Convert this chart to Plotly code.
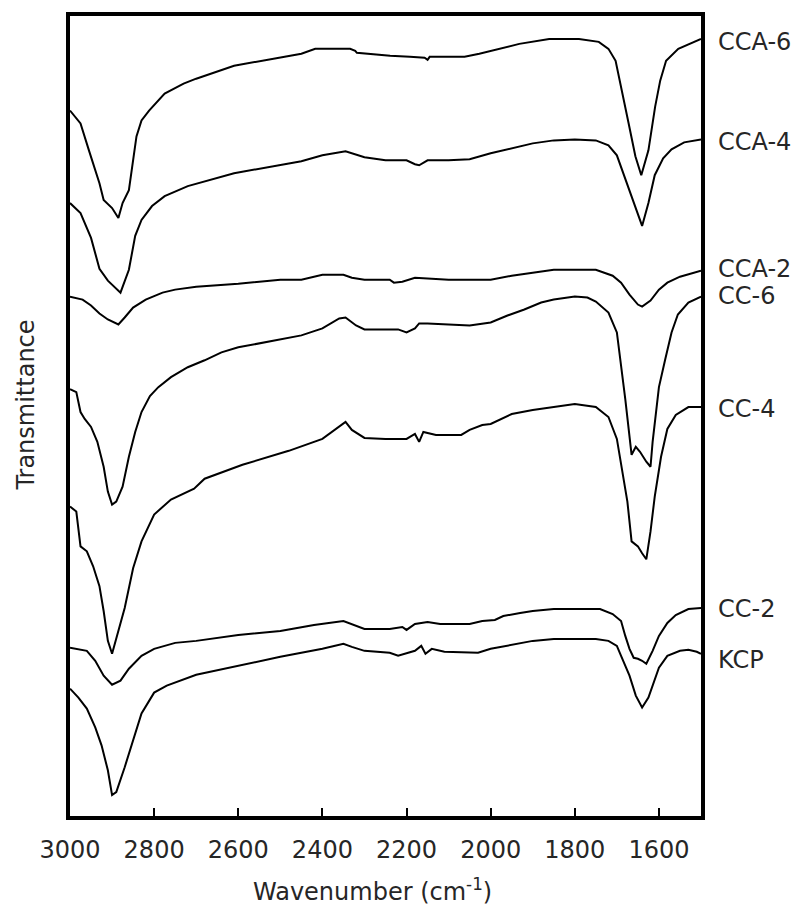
import plotly.graph_objects as go

# Wavenumber (cm^-1) and transmittance (arbitrary units, stacked/offset)
cca6_wn = [3000, 2975, 2955, 2930, 2920, 2900, 2885, 2875, 2860, 2850, 2842, 2830, 2812, 2775, 2730, 2700,
           2610, 2450, 2417, 2334, 2322, 2318, 2239, 2192, 2157, 2150, 2145, 2120, 2062, 2027, 1980, 1932,
           1861, 1790, 1743, 1720, 1703, 1689, 1672, 1656, 1642, 1625, 1609, 1597, 1583, 1554, 1519, 1500]
cca6_t = [711, 698, 671, 638, 621, 613, 603, 618, 631, 663, 685, 701, 711, 728, 738, 743,
          756, 768, 773, 773, 771, 769, 766, 765, 764, 762, 765, 765, 765, 768, 773, 778,
          783, 783, 780, 773, 761, 731, 698, 665, 646, 671, 715, 741, 761, 773, 780, 783]

cca4_wn = [3000, 2975, 2950, 2930, 2910, 2880, 2860, 2845, 2830, 2805, 2775, 2720, 2610, 2450, 2400, 2345,
           2300, 2250, 2200, 2180, 2170, 2150, 2100, 2050, 2000, 1950, 1900, 1850, 1800, 1750, 1720, 1700,
           1680, 1660, 1640, 1625, 1610, 1590, 1570, 1540, 1500]
cca4_t = [618, 608, 583, 552, 540, 528, 551, 585, 601, 615, 625, 635, 648, 660, 666, 670,
          664, 661, 661, 657, 656, 661, 661, 662, 668, 673, 678, 681, 682, 681, 676, 666,
          643, 618, 595, 618, 646, 663, 672, 679, 682]

cca2_wn = [3000, 2970, 2950, 2930, 2910, 2885, 2870, 2850, 2820, 2780, 2750, 2700, 2600, 2500, 2450, 2400,
           2350, 2330, 2300, 2240, 2230, 2210, 2180, 2150, 2100, 2000, 1950, 1900, 1850, 1800, 1750, 1710,
           1690, 1670, 1650, 1640, 1620, 1600, 1580, 1550, 1500]
cca2_t = [524, 521, 515, 507, 501, 496, 503, 513, 521, 528, 531, 534, 537, 541, 541, 546,
          546, 543, 541, 541, 538, 539, 543, 542, 541, 541, 545, 548, 551, 551, 551, 545,
          538, 526, 516, 514, 520, 531, 538, 544, 550]

cc6_wn = [3000, 2985, 2975, 2965, 2950, 2935, 2920, 2910, 2900, 2890, 2875, 2860, 2845, 2830, 2810, 2790,
          2760, 2720, 2680, 2640, 2600, 2500, 2450, 2400, 2360, 2345, 2320, 2300, 2250, 2220, 2200, 2180,
          2170, 2150, 2100, 2050, 2000, 1960, 1920, 1880, 1850, 1800, 1770, 1750, 1720, 1700, 1680, 1665,
          1655, 1645, 1630, 1620, 1615, 1600, 1585, 1570, 1555, 1530, 1500]
cc6_t = [431, 428, 408, 401, 393, 378, 353, 328, 315, 318, 333, 363, 388, 408, 424, 433,
         443, 453, 460, 468, 473, 481, 485, 492, 502, 503, 495, 491, 491, 491, 488, 492,
         497, 497, 496, 495, 498, 505, 511, 518, 521, 524, 523, 519, 508, 488, 421, 365,
         373, 368, 358, 353, 378, 433, 461, 488, 506, 518, 524]

cc4_wn = [3000, 2985, 2975, 2960, 2945, 2930, 2920, 2910, 2900, 2890, 2870, 2850, 2830, 2800, 2760, 2705,
          2680, 2590, 2480, 2400, 2345, 2330, 2300, 2250, 2200, 2180, 2170, 2160, 2130, 2100, 2070, 2050,
          2020, 2000, 1980, 1950, 1900, 1850, 1800, 1750, 1720, 1700, 1690, 1675, 1665, 1650, 1640, 1630,
          1620, 1610, 1595, 1580, 1560, 1530, 1500]
cc4_t = [313, 308, 273, 268, 253, 233, 208, 178, 165, 181, 211, 251, 278, 305, 320, 331,
         341, 355, 369, 381, 398, 390, 382, 381, 381, 386, 378, 388, 385, 385, 385, 390,
         395, 396, 400, 406, 410, 413, 416, 413, 403, 381, 356, 318, 278, 273, 266, 260,
         288, 323, 363, 391, 405, 413, 413]

cc2_wn = [3000, 2960, 2940, 2920, 2900, 2880, 2860, 2830, 2800, 2750, 2700, 2600, 2500, 2420, 2350, 2320,
          2300, 2240, 2210, 2200, 2180, 2150, 2120, 2050, 2020, 1990, 1970, 1930, 1900, 1850, 1800, 1740,
          1710, 1690, 1680, 1670, 1660, 1650, 1640, 1630, 1615, 1600, 1580, 1560, 1530, 1500]
cc2_t = [171, 168, 158, 143, 134, 138, 150, 163, 170, 176, 178, 184, 188, 194, 198, 193,
         190, 190, 192, 189, 195, 197, 195, 195, 198, 199, 203, 206, 208, 210, 210, 210,
         205, 198, 183, 170, 161, 160, 158, 155, 168, 183, 196, 204, 210, 211]

kcp_wn = [3000, 2980, 2960, 2940, 2925, 2910, 2900, 2890, 2870, 2850, 2830, 2800, 2770, 2700, 2600, 2500,
          2400, 2350, 2330, 2300, 2240, 2220, 2180, 2165, 2155, 2140, 2110, 2060, 2030, 2000, 1950, 1900,
          1850, 1800, 1750, 1720, 1700, 1690, 1670, 1655, 1640, 1625, 1610, 1600, 1580, 1550, 1530, 1510, 1500]
kcp_t = [130, 121, 110, 91, 73, 48, 23, 26, 51, 78, 105, 126, 133, 144, 153, 162,
         170, 175, 172, 168, 166, 163, 168, 173, 165, 170, 167, 166, 166, 170, 174, 178,
         180, 180, 180, 178, 173, 163, 143, 123, 111, 121, 138, 151, 163, 168, 169, 167, 165]

series_names = ["CCA-6", "CCA-4", "CCA-2", "CC-6", "CC-4", "CC-2", "KCP"]
series_wn = [cca6_wn, cca4_wn, cca2_wn, cc6_wn, cc4_wn, cc2_wn, kcp_wn]
series_t = [cca6_t, cca4_t, cca2_t, cc6_t, cc4_t, cc2_t, kcp_t]
label_offsets = [-3, -3, 2, 1, -2, -1, -6]  # small vertical nudges of the right-side labels

x_ticks = [3000, 2800, 2600, 2400, 2200, 2000, 1800, 1600]

FONT = "DejaVu Sans"
TXT = "#262626"

fig = go.Figure()
for name, wn, t in zip(series_names, series_wn, series_t):
    fig.add_trace(go.Scatter(x=wn, y=t, mode="lines", name=name,
                             line=dict(color="black", width=2), showlegend=False))

annotations = []
for name, t, off in zip(series_names, series_t, label_offsets):
    annotations.append(dict(x=1, xref="paper", y=t[-1] + off, yref="y", text=name,
                            showarrow=False, xanchor="left", yanchor="middle", xshift=15,
                            font=dict(family=FONT, size=24, color=TXT)))

annotations.append(dict(x=0.479, xref="paper", y=0, yref="paper",
                        text="Wavenumber (cm<sup>-1</sup>)", showarrow=False,
                        xanchor="center", yanchor="middle", yshift=-74,
                        font=dict(family=FONT, size=24, color=TXT)))
annotations.append(dict(x=0, xref="paper", y=0.513, yref="paper", text="Transmittance",
                        showarrow=False, textangle=-90, xanchor="center", yanchor="middle",
                        xshift=-44, font=dict(family=FONT, size=24, color=TXT)))

fig.update_layout(
    width=804, height=907,
    margin=dict(l=70, r=103, t=12, b=91),
    paper_bgcolor="white", plot_bgcolor="white",
    annotations=annotations,
    xaxis=dict(range=[3000, 1500], tickvals=x_ticks, ticktext=[str(v) for v in x_ticks],
               ticks="inside", ticklen=8, tickwidth=2, tickcolor="black",
               showline=True, linecolor="black", linewidth=4, mirror=True,
               showgrid=False, zeroline=False, ticklabelstandoff=9,
               tickfont=dict(family=FONT, size=24, color=TXT)),
    yaxis=dict(range=[2, 806], showticklabels=False, ticks="",
               showline=True, linecolor="black", linewidth=4, mirror=True,
               showgrid=False, zeroline=False),
)

fig.write_html("out.html")
